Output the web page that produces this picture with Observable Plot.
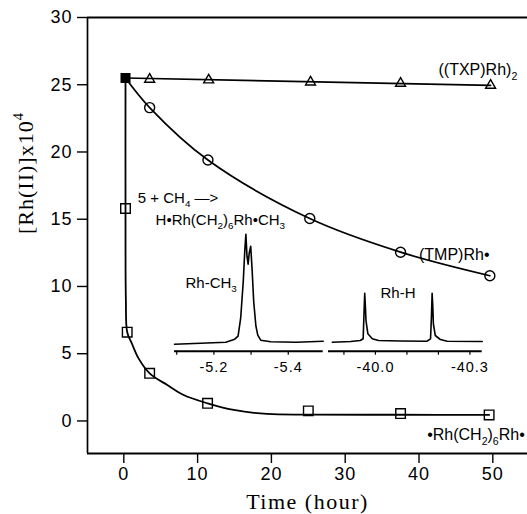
<!DOCTYPE html>
<html><head><meta charset="utf-8">
<script src="https://cdn.jsdelivr.net/npm/d3@7"></script>
<script src="https://cdn.jsdelivr.net/npm/@observablehq/plot@0.6"></script>
<style>
body{margin:0;background:#fff}
#wrap{position:relative;width:527px;height:514px;overflow:hidden;background:#fff}
#wrap svg{position:absolute;max-width:none}
g[aria-label="x-axis tick label"] text, g[aria-label="y-axis tick label"] text{letter-spacing:1px}
</style></head><body><div id="wrap"></div><script>
const SANS = "Liberation Sans, Arial, Helvetica, sans-serif";
const SERIF = "Liberation Serif, Times New Roman, serif";

// ---- data (time in hours, [Rh(II)] x 10^4) ----
const startPt = [[0.23, 25.5]];                       // filled square, t≈0
const txpPts  = [[3.5,25.4],[11.5,25.35],[25.3,25.2],[37.5,25.1],[49.7,24.95]];
const tmpPts  = [[3.5,23.3],[11.4,19.4],[25.2,15.05],[37.5,12.55],[49.6,10.8]];
const rhPts   = [[0.23,15.8],[0.46,6.6],[3.5,3.54],[11.35,1.31],[25.0,0.75],[37.5,0.55],[49.5,0.45]];
// fitted curves as drawn in the figure
const txpFit  = [[0.23,25.5],[49.7,24.95]];
const rhFit   = [[0.23,25.5],[0.23,15.8],[0.28,9],[0.46,6.6],[1.1,5.75],[2.0,4.65],[3.5,3.54],[5.9,2.67],[8.1,1.93],[11.35,1.31],[14.9,0.82],[19.4,0.52],[25,0.47],[37.5,0.46],[49.5,0.45]];
const xTicks = [0,10,20,30,40,50];
const yTicks = [0,5,10,15,20,25,30];
const xDomain = [-4.92, 54.7];
const yDomain = [-2.42, 30];

// ---- inset NMR spectra (ppm, relative intensity) ----
const ch3Spec = [[-5.094,-1],[-5.164,0],[-5.232,1],[-5.256,4],[-5.265,7],[-5.272,25],[-5.279,62],[-5.283,92],[-5.286,109],[-5.289,87],[-5.292,79],[-5.295,90],[-5.299,97],[-5.303,72],[-5.307,42],[-5.313,17],[-5.318,8],[-5.326,3],[-5.353,1.5],[-5.421,1],[-5.494,2]];
const hSpec = [[-39.863,1],[-39.921,1.7],[-39.952,2.7],[-39.961,4.4],[-39.963,22.7],[-39.966,50],[-39.968,37.7],[-39.970,22.7],[-39.976,9.4],[-39.990,4.4],[-40.010,2.7],[-40.079,2.2],[-40.164,2],[-40.175,4.4],[-40.178,27.7],[-40.180,50],[-40.182,37.7],[-40.184,19.4],[-40.190,7.7],[-40.206,3.7],[-40.228,2],[-40.339,1.7]];
const ch3Ticks = [-5.1,-5.2,-5.3,-5.4];
const ch3Labels = [-5.2,-5.4];
const hTicks = [-39.9,-40.0,-40.1,-40.2,-40.3];
const hLabels = [-40.0,-40.3];

// ---- text ----
const seriesLabels = ["((TXP)Rh)_2", "(TMP)Rh•", "•Rh(CH_2)_6Rh•"];
const reactionLabels = ["5 + CH_4 —>", "H•Rh(CH_2)_6Rh•CH_3"];
const peakLabels = ["Rh-CH_3", "Rh-H"];
const xTitle = "Time (hour)";
const yTitle = "[Rh(II)]x10^4";

const X = d => d[0], Y = d => d[1];
const lab = (text, x, y, size, extra = {}) =>
  Plot.text([text], {x, y, text: d => d, textAnchor: "start", lineAnchor: "middle",
    fontSize: size, fontFamily: SANS, fill: "black", ...extra});

const main = Plot.plot({
  width: 527, height: 514,
  marginLeft: 87, marginRight: 0, marginTop: 17, marginBottom: 61,
  x: {domain: xDomain},
  y: {domain: yDomain},
  style: {background: "white", color: "black", fontFamily: SANS},
  marks: [
    Plot.ruleY([yDomain[0], yDomain[1]], {strokeWidth: 2, stroke: "black"}),
    Plot.ruleX([xDomain[0]], {strokeWidth: 1.7, stroke: "black"}),
    Plot.axisX({ticks: xTicks, tickSize: 10, tickPadding: 4, fontSize: 18, label: null, strokeWidth: 1.4, fill: "black"}),
    Plot.axisY({ticks: yTicks, tickSize: 10, tickPadding: 5, fontSize: 18, label: null, strokeWidth: 1.4, fill: "black"}),
    Plot.line(txpFit, {x: X, y: Y, stroke: "black", strokeWidth: 1.7}),
    Plot.line([...startPt, ...tmpPts], {x: X, y: Y, stroke: "black", strokeWidth: 1.7, curve: "catmull-rom"}),
    Plot.line(rhFit, {x: X, y: Y, stroke: "black", strokeWidth: 1.8, curve: "catmull-rom"}),
    Plot.dot(txpPts, {x: X, y: Y, symbol: "triangle", r: 3.7, stroke: "black", strokeWidth: 1.4, fill: "none"}),
    Plot.dot(tmpPts, {x: X, y: Y, symbol: "circle", r: 5, stroke: "black", strokeWidth: 1.4, fill: "none"}),
    Plot.dot(rhPts, {x: X, y: Y, symbol: "square", r: 5.4, stroke: "black", strokeWidth: 1.4, fill: "none"}),
    Plot.dot(startPt, {x: X, y: Y, symbol: "square", r: 4.8, fill: "black", stroke: "black"}),
    lab(seriesLabels[0], 42.64, 26.08, 16),
    lab(seriesLabels[1], 40.0, 12.37, 16),
    lab(seriesLabels[2], 41.1, -1.05, 16),
    lab(reactionLabels[0], 1.9, 16.6, 15),
    lab(reactionLabels[1], 4.3, 14.95, 15),
    lab(peakLabels[0], 8.36, 10.25, 15),
    lab(peakLabels[1], 34.78, 9.5, 15),
    Plot.text([xTitle], {frameAnchor: "bottom", dy: 48, lineAnchor: "middle", text: d => d, fontSize: 22, fontFamily: SERIF, fill: "black"}),
    Plot.text([yTitle], {frameAnchor: "left", dx: -62, dy: -1.5, rotate: -90, lineAnchor: "middle", text: d => d, fontSize: 22, fontFamily: SERIF, fill: "black"})
  ]
});

function inset(spec, ticks, labels, domain, left, width, mL, mR) {
  const fmt = d => labels.some(v => Math.abs(v - d) < 1e-9) ? d.toFixed(1) : "";
  const svg = Plot.plot({
    width, height: 155, marginLeft: mL, marginRight: mR, marginTop: 0, marginBottom: 29.3,
    x: {domain}, y: {domain: [-8, 117.7], axis: null},
    style: {background: "transparent", overflow: "visible", fontFamily: SANS, color: "black"},
    marks: [
      Plot.ruleY([-8], {strokeWidth: 2, stroke: "black"}),
      Plot.axisX({ticks, tickSize: 4, tickPadding: 7, tickFormat: fmt, fontSize: 14.5, label: null, strokeWidth: 1.2, fill: "black"}),
      Plot.line(spec, {x: X, y: Y, stroke: "black", strokeWidth: 1.6})
    ]
  });
  svg.style.left = left + "px";
  svg.style.top = "225px";
  return svg;
}

const wrap = document.getElementById("wrap");
main.style.left = "0px"; main.style.top = "0px";
wrap.append(main);
wrap.append(inset(ch3Spec, ch3Ticks, ch3Labels, [-5.094, -5.494], 170, 156, 4, 3.3));
wrap.append(inset(hSpec, hTicks, hLabels, [-39.851, -40.339], 326, 160, 2, 4.3));

// letter spacing for the stretched-looking axis titles
main.querySelectorAll("text").forEach(t => {
  const s = t.textContent;
  if (s === xTitle) t.style.letterSpacing = "1.5px";
  if (s === yTitle) t.style.letterSpacing = "1px";
});

// convert _d / ^d markers into real subscript / superscript tspans
function richify(svg) {
  svg.querySelectorAll("text").forEach(t => {
    if (t.querySelector("tspan")) return;
    const s = t.textContent;
    if (!/[_^]\d/.test(s)) return;
    const fs = parseFloat(getComputedStyle(t).fontSize) || 14;
    t.textContent = "";
    let cur = 0;
    s.split(/([_^]\d)/).forEach(part => {
      if (!part) return;
      const sp = document.createElementNS("http://www.w3.org/2000/svg", "tspan");
      let target = 0;
      if (/^[_^]\d$/.test(part)) {
        target = part[0] === "_" ? 0.28 * fs : -0.42 * fs;
        sp.setAttribute("font-size", (0.66 * fs).toFixed(2));
        sp.textContent = part[1];
      } else sp.textContent = part;
      if (target !== cur) sp.setAttribute("dy", (target - cur).toFixed(2));
      cur = target;
      t.appendChild(sp);
    });
  });
}
wrap.querySelectorAll("svg").forEach(richify);
</script></body></html>
